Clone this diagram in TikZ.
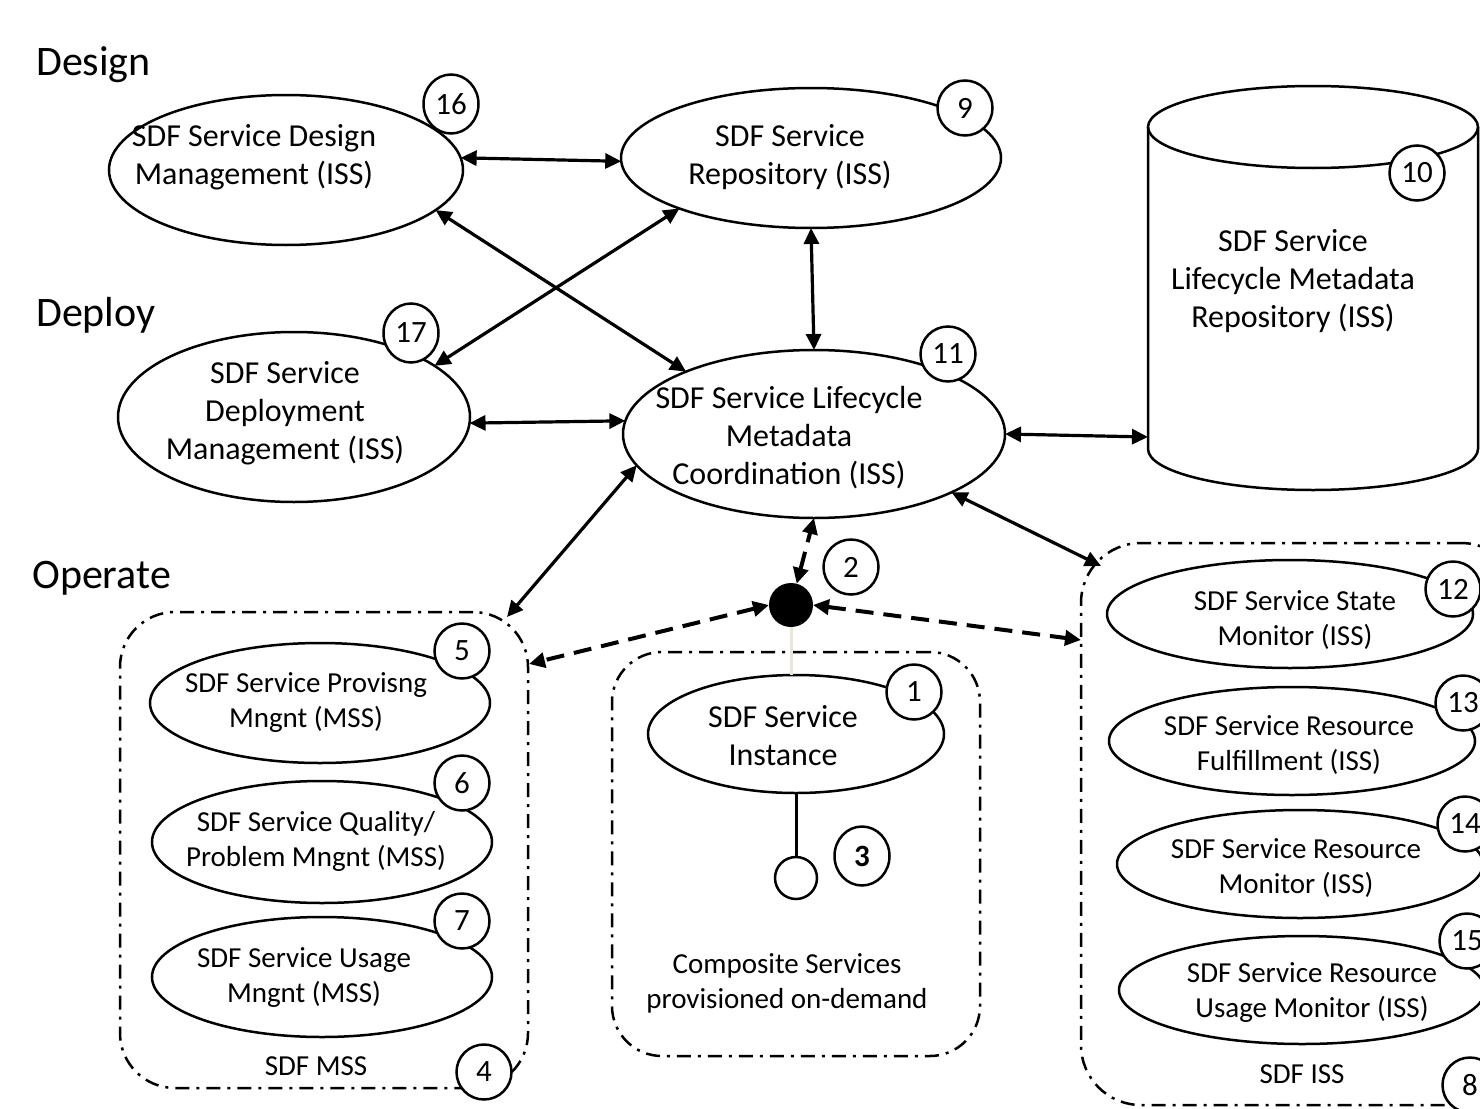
\documentclass[tikz,border=0pt]{standalone}
\usepackage{fontspec}
\setmainfont{Carlito}
\usetikzlibrary{arrows.meta,shapes.geometric}
\definecolor{lightline}{RGB}{232,230,218}
\tikzset{
  ell/.style={draw, ellipse, line width=2.5pt, inner sep=0pt, outer sep=0pt},
  num/.style={draw, circle, fill=white, line width=2.5pt, inner sep=0pt, outer sep=0pt, minimum size=55pt, font=\fontsize{31pt}{36pt}\selectfont},
  numtall/.style={num, ellipse, minimum width=55pt, minimum height=59pt},
  bigtxt/.style={font=\fontsize{32pt}{38pt}\selectfont, align=center, inner sep=0pt},
  smalltxt/.style={font=\fontsize{29pt}{35pt}\selectfont, align=center, inner sep=0pt},
  stage/.style={font=\fontsize{42pt}{50pt}\selectfont, anchor=west, inner sep=0pt},
  grp/.style={draw, line width=2.5pt, dash pattern=on 14pt off 7pt on 3pt off 7pt, rounded corners=55pt, inner sep=0pt, outer sep=0pt},
  conn/.style={line width=3.2pt, {Triangle[length=16pt,width=15pt]}-{Triangle[length=16pt,width=15pt]}},
  dconn/.style={conn, line width=4pt, dash pattern=on 18pt off 10pt},
}
\begin{document}
\begin{tikzpicture}[x=1pt,y=-1pt]
\useasboundingbox (0,0) rectangle (1480,1108);
\fill[white] (0,0) rectangle (1480,1108);
\clip (0,0) rectangle (1480,1108);

% stage labels
\node[stage] (design) at (36,65) {Design};
\node[stage] (deploy) at (36,315) {Deploy};
\node[stage] (operate) at (32,578) {Operate};

% groups
\node[grp, minimum width=408pt, minimum height=476pt] (mss) at (324,850) {};
\node[grp, minimum width=368pt, minimum height=404pt, rounded corners=50pt] (comp) at (796,854) {};
\node[grp, minimum width=440pt, minimum height=562pt, rounded corners=60pt] (iss) at (1301,824) {};

% cylinder
\node[minimum width=330pt, minimum height=322pt, inner sep=0pt] (cyl) at (1313,288) {};
\draw[line width=2.5pt] (1148,127) -- (1148,449) arc[start angle=180, end angle=360, x radius=165pt, y radius=41pt] -- (1478,127);
\draw[line width=2.5pt] (1313,127) ellipse [x radius=165pt, y radius=41pt];
\node[bigtxt] (t10) at (1293,281) {SDF Service\\Lifecycle Metadata\\Repository (ISS)};

% ellipses
\node[ell, minimum width=354pt, minimum height=150pt] (e16) at (286,170) {};
\node[ell, minimum width=380pt, minimum height=140pt] (e9) at (811,158) {};
\node[ell, minimum width=352pt, minimum height=170pt] (e17) at (294,417) {};
\node[ell, minimum width=382pt, minimum height=168pt] (e11) at (814,434) {};
\node[ell, minimum width=296pt, minimum height=118pt] (e1) at (796,734) {};
\node[ell, minimum width=340pt, minimum height=120pt] (e5) at (320,703) {};
\node[ell, minimum width=340pt, minimum height=122pt] (e6) at (322,842) {};
\node[ell, minimum width=340pt, minimum height=120pt] (e7) at (322,977) {};
\node[ell, minimum width=366pt, minimum height=108pt] (e12) at (1290,614) {};
\node[ell, minimum width=366pt, minimum height=108pt] (e13) at (1292,741) {};
\node[ell, minimum width=366pt, minimum height=108pt] (e14) at (1300,864) {};
\node[ell, minimum width=366pt, minimum height=108pt] (e15) at (1302,990) {};

% ellipse texts
\node[bigtxt] (t16) at (254,157) {SDF Service Design\\Management (ISS)};
\node[bigtxt] (t9) at (790,157) {SDF Service\\Repository (ISS)};
\node[bigtxt] (t17) at (285,413) {SDF Service\\Deployment\\Management (ISS)};
\node[bigtxt] (t11) at (789,438) {SDF Service Lifecycle\\Metadata\\Coordination (ISS)};
\node[bigtxt] (t1) at (783,736) {SDF Service\\Instance};
\node[smalltxt] (t5) at (306,703) {SDF Service Provisng\\Mngnt (MSS)};
\node[smalltxt] (t6) at (316,841) {SDF Service Quality/\\Problem Mngnt (MSS)};
\node[smalltxt] (t7) at (304,978) {SDF Service Usage\\Mngnt (MSS)};
\node[smalltxt] (t12) at (1295,620) {SDF Service State\\Monitor (ISS)};
\node[smalltxt] (t13) at (1289,745) {SDF Service Resource\\Fulfillment (ISS)};
\node[smalltxt] (t14) at (1296,868) {SDF Service Resource\\Monitor (ISS)};
\node[smalltxt] (t15) at (1312,993) {SDF Service Resource\\Usage Monitor (ISS)};
\node[smalltxt] (tmss) at (316,1066) {SDF MSS};
\node[smalltxt] (tiss) at (1302,1074) {SDF ISS};
\node[smalltxt] (tcomp) at (787,983) {Composite Services\\provisioned on-demand};

% hub and small circle
\node[circle, fill=black, minimum size=44pt, inner sep=0pt, outer sep=0pt] (dot) at (791,605) {};
\node[circle, draw, line width=2.5pt, minimum size=42pt, inner sep=0pt, outer sep=0pt] (sc) at (796,878) {};

% connectors
\coordinate (cylA) at (1148,437);
\coordinate (mssA) at (507,617);
\coordinate (mssB) at (529,664);
\coordinate (issA) at (1101,566);
\coordinate (issB) at (1081,640);

\draw[conn] (e16.4) -- (e9.181);
\draw[conn] (e16.-15) -- (e11.154);
\draw[conn] (e9.201) -- (e17.20);
\draw[conn] (e9.south) -- (e11.north);
\draw[conn] (e17.-2) -- (e11.176);
\draw[conn] (e11.east) -- (cylA);
\draw[conn] (e11.190) -- (mssA);
\draw[conn] (e11.-23) -- (issA);
\draw[dconn] (dot.75) -- (e11.south);
\draw[dconn] (dot.west) -- (mssB);
\draw[dconn] (dot.east) -- (issB);
\draw[line width=3pt, lightline] (dot.south) -- (dot.south |- e1.north);
\draw[line width=3pt] (e1.south) -- (sc.north);

% number badges
\node[numtall] (n16) at (451,104) {16};
\node[num] (n9) at (965,108) {9};
\node[num] (n10) at (1417,173) {10};
\node[numtall] (n17) at (411,333) {17};
\node[num] (n11) at (948,354) {11};
\node[num] (n2) at (851,567) {2};
\node[num] (n1) at (914,692) {1};
\node[numtall, font=\fontsize{31pt}{36pt}\selectfont\bfseries] (n3) at (862,856) {3};
\node[num] (n5) at (462,651) {5};
\node[num] (n6) at (462,783) {6};
\node[num] (n7) at (462,921) {7};
\node[num] (n4) at (484,1072) {4};
\node[num] (n12) at (1453,589) {12};
\node[num] (n13) at (1463,703) {13};
\node[num] (n14) at (1465,824) {14};
\node[num] (n15) at (1467,941) {15};
\node[num] (n8) at (1470,1085) {8};
\end{tikzpicture}
\end{document}
